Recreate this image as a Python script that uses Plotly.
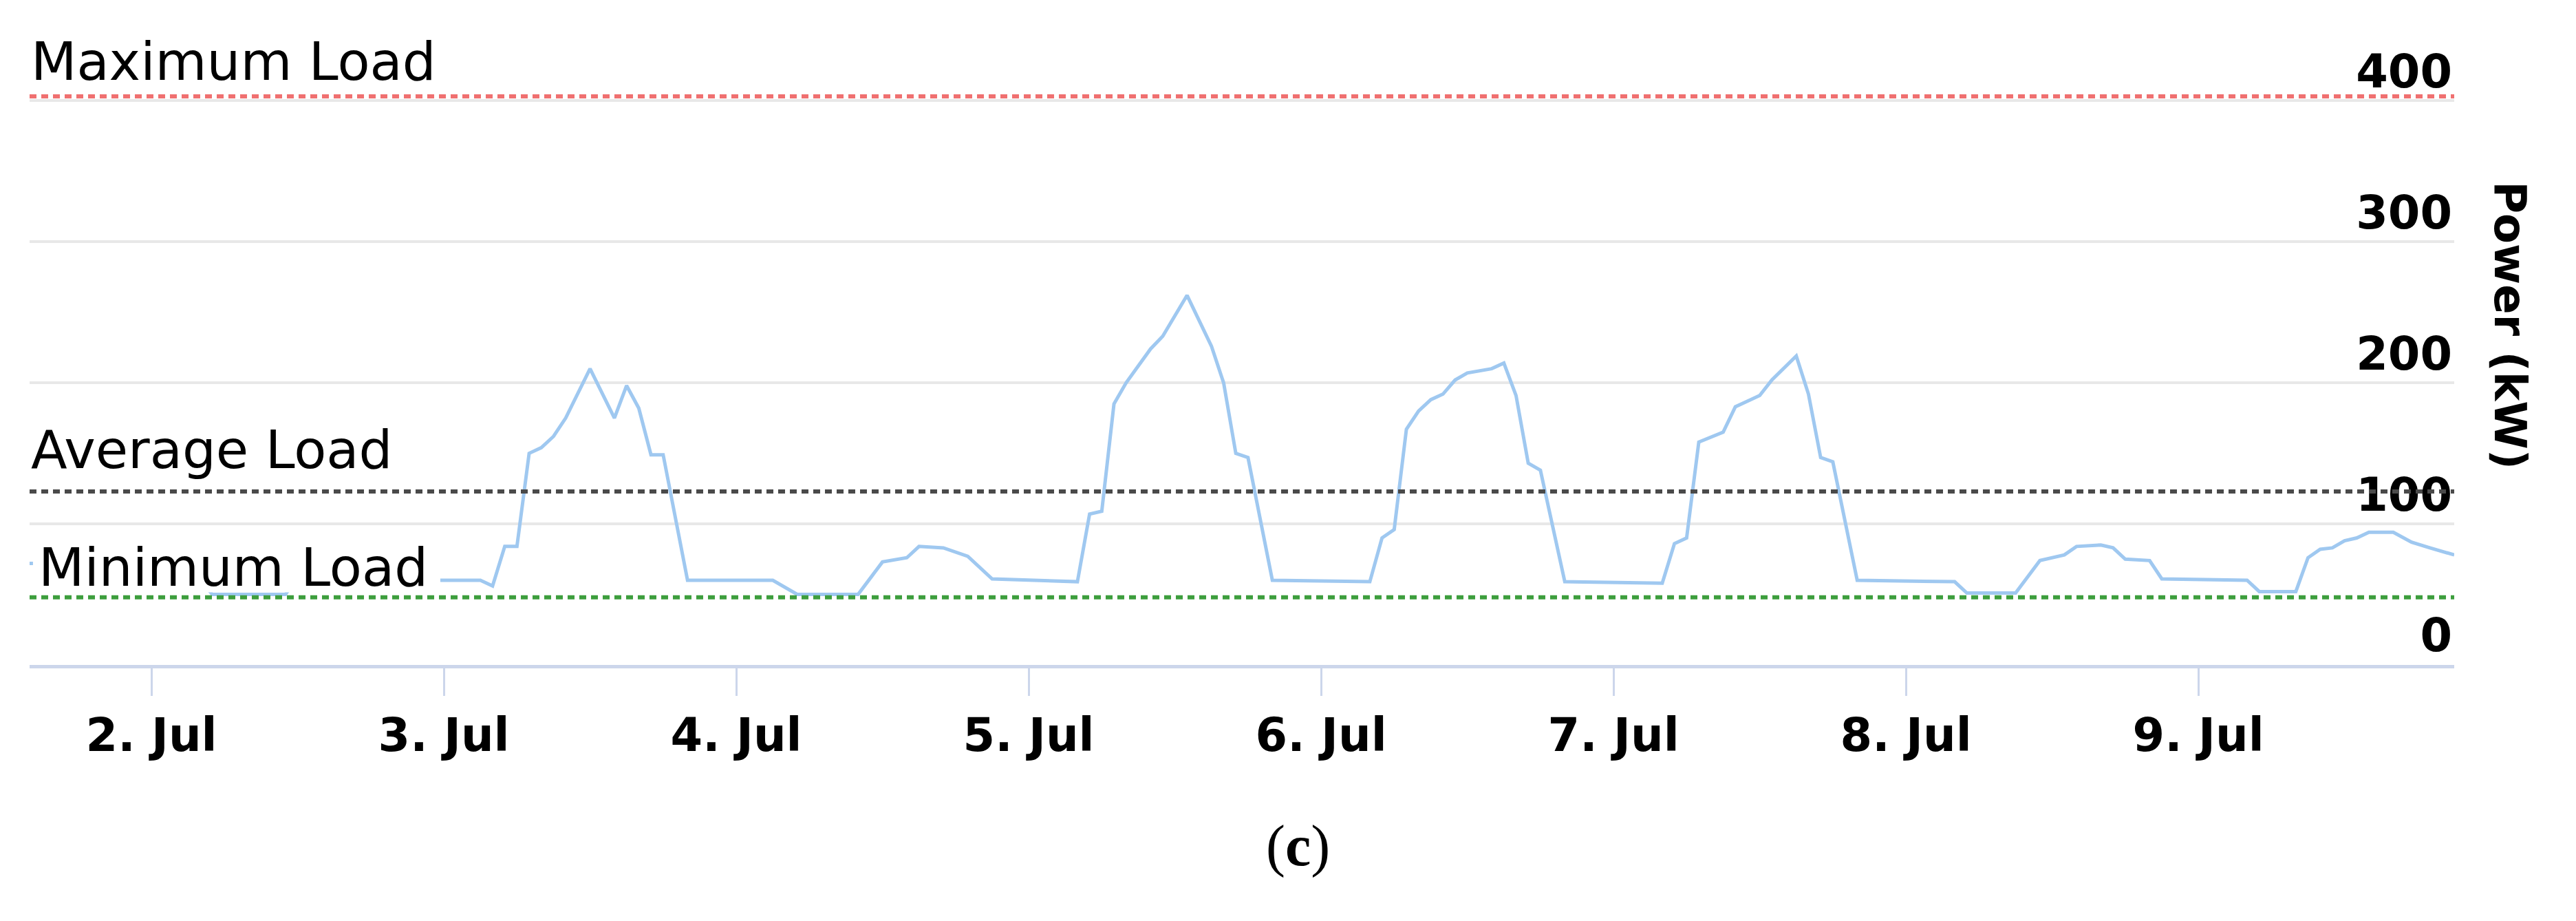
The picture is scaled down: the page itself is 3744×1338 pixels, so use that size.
import plotly.graph_objects as go

# Leistungsprofil (Stundenwerte)
times = [
    "2017-07-01 14:00", "2017-07-01 16:00", "2017-07-01 18:00", "2017-07-01 20:00",
    "2017-07-02 04:00", "2017-07-02 05:00", "2017-07-02 11:00", "2017-07-02 13:00",
    "2017-07-02 15:00", "2017-07-02 17:00", "2017-07-02 20:00",
    "2017-07-03 03:00", "2017-07-03 04:00", "2017-07-03 05:00", "2017-07-03 06:00",
    "2017-07-03 07:00", "2017-07-03 08:00", "2017-07-03 09:00", "2017-07-03 10:00",
    "2017-07-03 12:00", "2017-07-03 14:00", "2017-07-03 15:00", "2017-07-03 16:00",
    "2017-07-03 17:00", "2017-07-03 18:00", "2017-07-03 20:00",
    "2017-07-04 03:00", "2017-07-04 05:00", "2017-07-04 10:00", "2017-07-04 12:00",
    "2017-07-04 14:00", "2017-07-04 15:00", "2017-07-04 17:00", "2017-07-04 19:00",
    "2017-07-04 21:00",
    "2017-07-05 04:00", "2017-07-05 05:00", "2017-07-05 06:00", "2017-07-05 07:00",
    "2017-07-05 08:00", "2017-07-05 09:00", "2017-07-05 10:00", "2017-07-05 11:00",
    "2017-07-05 13:00", "2017-07-05 15:00", "2017-07-05 16:00", "2017-07-05 17:00",
    "2017-07-05 18:00", "2017-07-05 20:00",
    "2017-07-06 04:00", "2017-07-06 05:00", "2017-07-06 06:00", "2017-07-06 07:00",
    "2017-07-06 08:00", "2017-07-06 09:00", "2017-07-06 10:00", "2017-07-06 11:00",
    "2017-07-06 12:00", "2017-07-06 14:00", "2017-07-06 15:00", "2017-07-06 16:00",
    "2017-07-06 17:00", "2017-07-06 18:00", "2017-07-06 20:00",
    "2017-07-07 04:00", "2017-07-07 05:00", "2017-07-07 06:00", "2017-07-07 07:00",
    "2017-07-07 09:00", "2017-07-07 10:00", "2017-07-07 11:00", "2017-07-07 12:00",
    "2017-07-07 13:00", "2017-07-07 15:00", "2017-07-07 16:00", "2017-07-07 17:00",
    "2017-07-07 18:00", "2017-07-07 20:00",
    "2017-07-08 04:00", "2017-07-08 05:00", "2017-07-08 09:00", "2017-07-08 11:00",
    "2017-07-08 13:00", "2017-07-08 14:00", "2017-07-08 16:00", "2017-07-08 17:00",
    "2017-07-08 18:00", "2017-07-08 20:00", "2017-07-08 21:00",
    "2017-07-09 04:00", "2017-07-09 05:00", "2017-07-09 08:00", "2017-07-09 09:00",
    "2017-07-09 10:00", "2017-07-09 11:00", "2017-07-09 12:00", "2017-07-09 13:00",
    "2017-07-09 14:00", "2017-07-09 16:00", "2017-07-09 17:30", "2017-07-09 19:00",
    "2017-07-09 21:00",
]
power_kw = [
    72, 72, 64, 60,
    60, 50, 50, 74,
    80, 74, 60,
    60, 56, 84, 84,
    150, 154, 162, 175,
    210, 175, 198, 182,
    149, 149, 60,
    60, 50, 50, 73,
    76, 84, 83, 77,
    61,
    59, 107, 109, 185,
    200, 212, 224, 233,
    262, 226, 200, 150,
    147, 60,
    59, 90, 96, 167,
    180, 188, 192, 202,
    207, 210, 214, 191,
    143, 138, 59,
    58, 86, 90, 158,
    165, 183, 187, 191,
    202, 219, 192, 147,
    144, 60,
    59, 51, 51, 74,
    78, 84, 85, 83,
    75, 74, 61,
    60, 52, 52, 76,
    82, 83, 88, 90,
    94, 94, 87, 83,
    78,
]

max_load = 403
avg_load = 123
min_load = 48

y_ticks = [0, 100, 200, 300, 400]

fig = go.Figure()

fig.add_trace(go.Scatter(
    x=times, y=power_kw, mode="lines",
    line=dict(color="#9fc8f0", width=5),
    showlegend=False, hoverinfo="x+y",
))

# weißer Hintergrund hinter dem Label "Minimum Load" (verdeckt die Kurve, nicht die grüne Linie)
fig.add_shape(type="rect", xref="paper", x0=0.0014, x1=0.1694, yref="y", y0=51.5, y1=84,
              fillcolor="white", line=dict(width=0), layer="above")

# Referenzlinien (gepunktet)
for val, col in [(max_load, "#f07070"), (avg_load, "#4a4a4a"), (min_load, "#3d9e3d")]:
    fig.add_shape(
        type="line", xref="paper", x0=0, x1=1, yref="y", y0=val, y1=val,
        line=dict(color=col, width=6, dash="10px,7px"), layer="above",
    )

label_font = dict(family="DejaVu Sans", size=77, color="#000000")
fig.add_annotation(x=0, xref="paper", xanchor="left", y=max_load, yref="y",
                   yanchor="bottom", yshift=4, text="Maximum Load",
                   showarrow=False, font=label_font)
fig.add_annotation(x=0, xref="paper", xanchor="left", y=avg_load, yref="y",
                   yanchor="bottom", yshift=14, text="Average Load",
                   showarrow=False, font=label_font)
fig.add_annotation(x=0, xref="paper", xanchor="left", y=min_load, yref="y",
                   yanchor="bottom", yshift=-3, xshift=11, text="Minimum Load",
                   showarrow=False, font=label_font)

# Achsentitel rechts, von oben nach unten lesbar
fig.add_annotation(x=1.034, xref="paper", y=0.5406, yref="paper",
                   text="<b>Power (kW)</b>", textangle=90, showarrow=False,
                   font=dict(family="DejaVu Sans", size=64, color="#000000"))

# Bildunterschrift
fig.add_annotation(x=0.523, xref="paper", y=-0.3421, yref="paper",
                   text="(<b>c</b>)", showarrow=False,
                   font=dict(family="Liberation Serif", size=84, color="#000000"))

tick_font = dict(family="DejaVu Sans", size=67, color="#000000", weight="bold")

fig.update_xaxes(
    type="date",
    range=["2017-07-01 14:00", "2017-07-09 21:00"],
    tick0="2017-07-02", dtick=86400000, tickformat="%-d. %b",
    showgrid=False, zeroline=False,
    showline=True, linecolor="#ccd6eb", linewidth=5,
    ticks="outside", ticklen=40, tickwidth=3, tickcolor="#ccd6eb",
    tickfont=tick_font,
)
fig.update_yaxes(
    range=[0, 445], tickvals=y_ticks, side="right",
    ticklabelposition="inside", ticklabelshift=-43,
    showgrid=True, gridcolor="#e8e8e8", gridwidth=4,
    zeroline=False, showline=False, ticks="",
    tickfont=tick_font,
)

fig.update_layout(
    width=3744, height=1338, autosize=False,
    margin=dict(l=43, r=177, t=54, b=372),
    plot_bgcolor="white", paper_bgcolor="white",
)

fig.write_html("out.html", config={"displayModeBar": False},
               post_script="document.body.style.margin='0';")
